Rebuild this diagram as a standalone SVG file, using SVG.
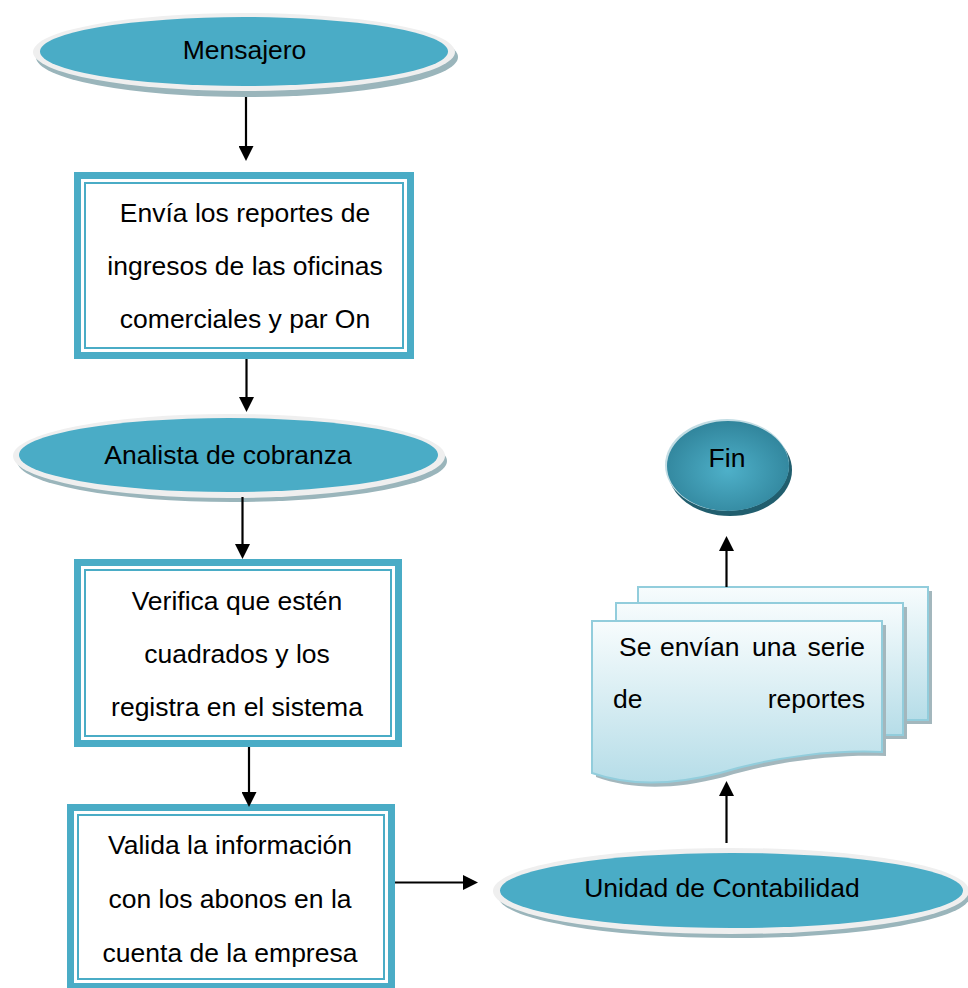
<svg xmlns="http://www.w3.org/2000/svg" width="968" height="988" viewBox="0 0 968 988">
<style>
.t{font-family:"Liberation Sans",Arial,sans-serif;font-size:26.5px;fill:#000}
.c{text-anchor:middle}
.shadow{fill:#9ab5bb}
.rim{fill:#efefef}
.teal{fill:#4aacc6}
.inner{fill:#fff}
.thin{fill:none;stroke:#4aacc6;stroke-width:2}
.conn{stroke:#000;stroke-width:2.2;fill:none;marker-end:url(#ah)}
.doc{stroke:#92cddc;stroke-width:2}
.docsh{fill:#a3b7bd}
</style>
<defs>
<marker id="ah" viewBox="0 0 15 15" markerWidth="15" markerHeight="15" refX="0" refY="7.5" orient="auto" markerUnits="userSpaceOnUse">
<path d="M0,0 L15,7.5 L0,15 Z" fill="#000"/>
</marker>
<linearGradient id="docg" x1="0" y1="0" x2="0" y2="1">
<stop offset="0" stop-color="#f7fcfd"/>
<stop offset="1" stop-color="#b6dde8"/>
</linearGradient>
<radialGradient id="fing" cx="0.5" cy="0.55" r="0.55">
<stop offset="0" stop-color="#4eb0c9"/>
<stop offset="1" stop-color="#31859c"/>
</radialGradient>
</defs>

<g id="mensajero">
<ellipse class="shadow" cx="247" cy="57" rx="211" ry="40"/>
<ellipse class="rim" cx="244" cy="52" rx="211" ry="39"/>
<ellipse class="teal" cx="244" cy="51.5" rx="204" ry="34.5"/>
<text class="t c" x="244.5" y="59">Mensajero</text>
</g>

<g id="envia">
<rect class="teal" x="74" y="172" width="340" height="187"/>
<rect class="inner" x="81" y="179" width="326" height="173"/>
<rect class="thin" x="85" y="183" width="318" height="165"/>
<text class="t c" x="245" y="222">Envía los reportes de</text>
<text class="t c" x="245" y="275">ingresos de las oficinas</text>
<text class="t c" x="245" y="328">comerciales y par On</text>
</g>

<g id="analista">
<ellipse class="shadow" cx="232" cy="461" rx="215" ry="41"/>
<ellipse class="rim" cx="229" cy="456" rx="216" ry="42"/>
<ellipse class="teal" cx="228.5" cy="455" rx="209.5" ry="37"/>
<text class="t c" x="228" y="464">Analista de cobranza</text>
</g>

<g id="verifica">
<rect class="teal" x="74" y="559" width="328" height="188"/>
<rect class="inner" x="81" y="566" width="314" height="174"/>
<rect class="thin" x="85" y="570" width="306" height="166"/>
<text class="t c" x="237" y="610">Verifica que estén</text>
<text class="t c" x="237" y="663">cuadrados y los</text>
<text class="t c" x="237" y="716">registra en el sistema</text>
</g>

<g id="valida">
<rect class="teal" x="67" y="804" width="328" height="186"/>
<rect class="inner" x="74" y="811" width="314" height="172"/>
<rect class="thin" x="78" y="815" width="306" height="164"/>
<text class="t c" x="230" y="854">Valida la información</text>
<text class="t c" x="230" y="908">con los abonos en la</text>
<text class="t c" x="230" y="962">cuenta de la empresa</text>
</g>

<g id="unidad">
<ellipse class="shadow" cx="734" cy="896" rx="236" ry="42"/>
<ellipse class="rim" cx="731" cy="891" rx="238" ry="43"/>
<ellipse class="teal" cx="731.5" cy="890.5" rx="231.5" ry="37.5"/>
<text class="t c" x="722" y="897">Unidad de Contabilidad</text>
</g>

<g id="reportes">
<rect class="docsh" x="642" y="591" width="290" height="133"/>
<rect class="doc" x="638" y="587" width="290" height="133" fill="url(#docg)"/>
<rect class="docsh" x="620" y="607" width="287" height="132"/>
<rect class="doc" x="616" y="603" width="287" height="132" fill="url(#docg)"/>
<path class="docsh" d="M596,625 H886 V756 C840,754 780,760 724,777 C670,791 630,789 596,777 Z"/>
<path class="doc" d="M592,621 H882 V752 C836,750 776,756 720,773 C666,787 626,785 592,773 Z" fill="url(#docg)"/>
<text class="t" x="619" y="656">Se</text>
<text class="t" x="660" y="656">envían</text>
<text class="t" x="752" y="656">una</text>
<text class="t" x="865" y="656" text-anchor="end">serie</text>
<text class="t" x="613" y="708">de</text>
<text class="t" x="865" y="708" text-anchor="end">reportes</text>
</g>

<g id="fin">
<ellipse cx="730" cy="470" rx="62" ry="46" fill="#215e6e"/>
<ellipse cx="727" cy="465" rx="62" ry="46" fill="#c3dde4"/>
<ellipse cx="728" cy="466" rx="61" ry="45" fill="url(#fing)"/>
<text class="t c" x="727" y="467">Fin</text>
</g>

<g id="connectors">
<line class="conn" x1="246" y1="97" x2="246" y2="146"/>
<line class="conn" x1="246.5" y1="359" x2="246.5" y2="397"/>
<line class="conn" x1="242.5" y1="497" x2="242.5" y2="544"/>
<line class="conn" x1="249" y1="747" x2="249" y2="792"/>
<line class="conn" x1="395" y1="882.5" x2="463" y2="882.5"/>
<line class="conn" x1="726.5" y1="843" x2="726.5" y2="796"/>
<line class="conn" x1="726.5" y1="587" x2="726.5" y2="551"/>
</g>
</svg>
